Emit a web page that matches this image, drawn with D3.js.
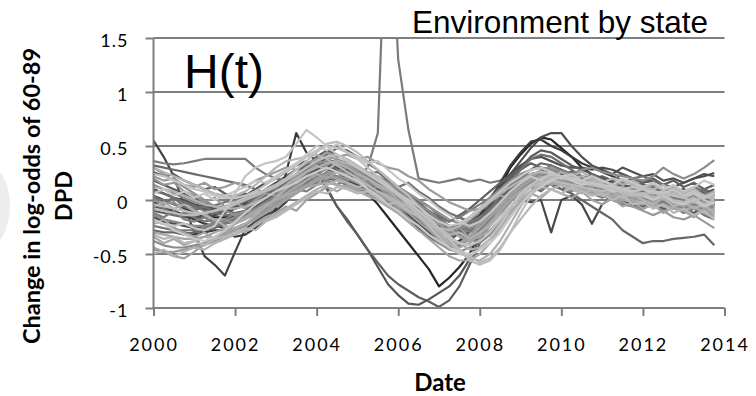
<!DOCTYPE html>
<html><head><meta charset="utf-8">
<script src="https://cdn.jsdelivr.net/npm/d3@7"></script>
<style>
html,body{margin:0;padding:0;background:#fff;}
svg{display:block;}
</style></head>
<body>
<svg id="chart" width="756" height="396"></svg>
<script>
// ---------------- DATA (quarterly, 2000Q1 .. 2013Q4) ----------------
const firstYear = 2000;
const xTickValues = [2000, 2002, 2004, 2006, 2008, 2010, 2012, 2014];
const yTickValues = [-1, -0.5, 0, 0.5, 1, 1.5];
const chartTitle = "Environment by state";
const panelLabel = "H(t)";
const xTitle = "Date";
const yTitleLines = ["Change in log-odds of 60-89", "DPD"];

// outlier / dark series
const sSpike = [0.02,0.00,-0.04,-0.06, -0.08,-0.06,-0.05,-0.02, 0.00,0.02,0.05,0.08, 0.12,0.15,0.20,0.26, 0.30,0.32,0.30,0.28, 0.22,0.30,0.62,3.20, 1.30,0.65,0.20,0.18, 0.16,0.18,0.20,0.17, 0.19,0.16,0.18,0.22, 0.20,0.24,0.26,0.22, 0.18,0.14,0.12,0.10, 0.08,0.06,0.10,0.04, 0.02,0.06,0.00,0.04, -0.02,0.03,-0.04,0.00];
const sDip01 = [0.55,0.40,0.22,-0.05, -0.30,-0.52,-0.60,-0.70, -0.48,-0.27,-0.20,-0.14, -0.10,-0.02,0.10,0.22, 0.30,0.28,0.26,0.20, 0.15,0.08,0.02,-0.04, -0.10,-0.16,-0.22,-0.30, -0.36,-0.38,-0.30,-0.22, -0.14,-0.06,0.02,0.10, 0.18,0.24,0.26,0.22, 0.20,0.18,0.14,0.12, 0.10,0.12,0.08,0.06, 0.04,0.08,0.02,0.00, 0.04,-0.02,0.03,-0.05];
const sDeepA = [0.10,0.06,0.02,0.00, -0.04,-0.06,-0.08,-0.06, -0.02,0.04,0.10,0.16, 0.20,0.26,0.32,0.36, 0.26,0.10,-0.06,-0.18, -0.32,-0.46,-0.62,-0.78, -0.88,-0.96,-0.97,-0.92, -0.86,-0.80,-0.70,-0.55, -0.35,-0.15,0.00,0.10, 0.18,0.22,0.24,0.20, 0.16,0.12,0.10,0.06, 0.04,0.02,0.00,-0.04, -0.06,-0.02,-0.08,-0.04, -0.08,-0.12,-0.06,-0.10];
const sDeepB = [-0.10,-0.12,-0.14,-0.16, -0.16,-0.14,-0.12,-0.10, -0.06,-0.02,0.04,0.10, 0.16,0.22,0.28,0.32, 0.28,0.12,-0.06,-0.20, -0.32,-0.46,-0.58,-0.70, -0.78,-0.84,-0.90,-0.94, -0.99,-0.93,-0.80,-0.60, -0.40,-0.20,-0.04,0.08, 0.16,0.20,0.22,0.20, 0.16,0.14,0.10,0.08, 0.06,0.02,0.04,0.00, -0.04,0.00,-0.06,-0.02, -0.06,-0.02,-0.08,-0.06];
const sBlack = [0.04,0.00,-0.04,-0.08, -0.12,-0.14,-0.16,-0.16, -0.14,-0.10,-0.04,0.02, 0.08,0.14,0.20,0.26, 0.28,0.30,0.26,0.20, 0.14,0.06,-0.04,-0.16, -0.28,-0.40,-0.52,-0.64, -0.80,-0.72,-0.62,-0.50, -0.30,-0.08,0.12,0.30, 0.42,0.52,0.58,0.56, 0.48,0.40,0.30,0.24, 0.20,0.16,0.14,0.10, 0.08,0.10,0.06,0.04, 0.06,0.02,0.04,0.00];
const sPeak03 = [-0.20,-0.22,-0.26,-0.30, -0.32,-0.30,-0.28,-0.28, -0.34,-0.32,-0.26,-0.18, -0.08,0.25,0.62,0.44, 0.36,0.38,0.34,0.30, 0.26,0.20,0.14,0.08, 0.00,-0.08,-0.14,-0.20, -0.26,-0.30,-0.26,-0.18, -0.10,-0.02,0.06,0.12, 0.18,0.22,0.24,0.20, 0.16,0.14,0.12,0.10, 0.08,0.04,0.06,0.02, 0.00,0.04,-0.02,0.02, 0.00,-0.04,0.02,-0.04];
const sDip09 = [-0.16,-0.20,-0.22,-0.24, -0.26,-0.24,-0.22,-0.18, -0.14,-0.10,-0.06,0.00, 0.04,0.10,0.16,0.20, 0.22,0.24,0.22,0.18, 0.14,0.08,0.04,-0.02, -0.10,-0.18,-0.26,-0.32, -0.36,-0.36,-0.30,-0.22, -0.14,-0.06,0.00,0.04, 0.00,-0.02,0.00,-0.30, 0.00,0.04,-0.04,-0.22, -0.04,0.02,-0.02,-0.04, -0.02,-0.06,-0.04,-0.08, -0.04,-0.08,-0.06,-0.12];
const sPeak10 = [0.10,0.06,0.02,-0.02, -0.06,-0.08,-0.10,-0.10, -0.08,-0.04,0.00,0.04, 0.10,0.16,0.22,0.28, 0.32,0.34,0.32,0.28, 0.22,0.16,0.10,0.02, -0.06,-0.14,-0.22,-0.30, -0.36,-0.40,-0.38,-0.30, -0.18,-0.04,0.10,0.24, 0.36,0.48,0.58,0.62, 0.62,0.50,0.40,0.32, 0.28,0.24,0.30,0.26, 0.22,0.24,0.18,0.20, 0.16,0.20,0.24,0.22];
const sPeak09 = [-0.02,-0.06,-0.10,-0.14, -0.18,-0.22,-0.24,-0.26, -0.26,-0.22,-0.18,-0.12, -0.06,0.00,0.08,0.16, 0.24,0.30,0.34,0.30, 0.24,0.18,0.10,0.02, -0.06,-0.14,-0.22,-0.30, -0.38,-0.42,-0.38,-0.28, -0.14,0.00,0.16,0.32, 0.44,0.54,0.56,0.50, 0.46,0.40,0.34,0.30, 0.26,0.22,0.18,0.16, 0.14,0.12,0.10,0.08, 0.10,0.06,0.08,0.04];
const sLowEnd = [-0.28,-0.30,-0.30,-0.32, -0.30,-0.28,-0.26,-0.22, -0.18,-0.14,-0.08,-0.02, 0.02,0.08,0.12,0.16, 0.18,0.20,0.18,0.14, 0.10,0.04,0.00,-0.06, -0.12,-0.20,-0.28,-0.34, -0.40,-0.44,-0.42,-0.36, -0.28,-0.18,-0.06,0.04, 0.10,0.16,0.18,0.14, 0.10,0.06,0.00,-0.06, -0.12,-0.18,-0.28,-0.34, -0.40,-0.38,-0.38,-0.36, -0.35,-0.34,-0.32,-0.42];
const sHighEnd = [0.14,0.10,0.06,0.02, -0.02,-0.04,-0.06,-0.06, -0.04,0.00,0.04,0.08, 0.12,0.18,0.24,0.30, 0.34,0.36,0.34,0.30, 0.24,0.18,0.12,0.06, 0.00,-0.08,-0.14,-0.20, -0.26,-0.30,-0.26,-0.18, -0.08,0.02,0.10,0.18, 0.24,0.28,0.30,0.28, 0.26,0.24,0.28,0.30, 0.26,0.24,0.22,0.20, 0.18,0.22,0.30,0.24, 0.20,0.24,0.30,0.37];
const sMidHigh = [-0.06,-0.08,-0.12,-0.14, -0.16,-0.16,-0.14,-0.12, -0.08,-0.04,0.00,0.04, 0.08,0.12,0.18,0.24, 0.28,0.30,0.28,0.24, 0.20,0.14,0.08,0.02, -0.04,-0.12,-0.20,-0.26, -0.30,-0.32,-0.28,-0.20, -0.10,0.02,0.14,0.24, 0.32,0.38,0.40,0.36, 0.32,0.30,0.30,0.28, 0.30,0.28,0.24,0.20, 0.16,0.18,0.14,0.12, 0.16,0.20,0.22,0.25];

// bulk of states
const b01 = [-0.44,-0.48,-0.52,-0.54, -0.48,-0.40,-0.34,-0.30, -0.26,-0.22,-0.18,-0.12, -0.06,0.00,0.06,0.12, 0.18,0.22,0.20,0.16, 0.12,0.08,0.04,0.00, -0.06,-0.12,-0.20,-0.28, -0.36,-0.42,-0.40,-0.34, -0.26,-0.16,-0.06,0.04, 0.12,0.18,0.22,0.20, 0.16,0.14,0.12,0.10, 0.08,0.06,0.04,0.02, 0.00,-0.02,0.02,-0.04, -0.06,-0.02,-0.08,-0.10];
const b02 = [-0.38,-0.42,-0.44,-0.44, -0.42,-0.40,-0.36,-0.32, -0.28,-0.24,-0.16,-0.08, 0.00,0.06,0.14,0.22, 0.22,0.30,0.26,0.30, 0.24,0.26,0.20,0.16, 0.10,0.04,-0.04,-0.10, -0.18,-0.24,-0.30,-0.34, -0.30,-0.22,-0.12,-0.02, 0.16,0.22,0.24,0.22, 0.18,0.16,0.14,0.10, 0.10,0.08,0.06,0.08, 0.04,0.02,0.06,0.00, -0.02,0.02,-0.04,-0.08];
const b03 = [0.30,0.26,0.22,0.18, 0.14,0.10,0.06,0.04, 0.04,0.08,0.14,0.22, 0.30,0.36,0.38,0.40, 0.42,0.38,0.32,0.26, 0.20,0.14,0.08,0.02, -0.04,-0.10,-0.16,-0.22, -0.26,-0.28,-0.24,-0.18, -0.10,-0.02,0.06,0.12, 0.18,0.24,0.26,0.24, 0.22,0.20,0.22,0.18, 0.16,0.20,0.18,0.14, 0.12,0.10,0.14,0.08, 0.06,0.10,0.04,0.02];
const b04 = [0.20,0.14,0.16,0.08, 0.04,-0.02,0.02,-0.06, -0.02,-0.08,0.00,0.06, 0.04,0.14,0.22,0.30, 0.36,0.40,0.38,0.32, 0.26,0.20,0.14,0.06, 0.04,-0.02,-0.10,-0.16, -0.22,-0.30,-0.26,-0.34, -0.22,-0.14,-0.04,0.06, 0.14,0.20,0.28,0.30, 0.26,0.22,0.18,0.14, 0.12,0.10,0.06,0.04, 0.02,0.04,0.00,-0.02, -0.04,0.00,-0.06,-0.12];
const b05 = [-0.20,-0.22,-0.24,-0.22, -0.26,-0.28,-0.24,-0.10, 0.06,0.22,0.30,0.34, 0.36,0.40,0.52,0.65, 0.58,0.50,0.42,0.36, 0.30,0.24,0.18,0.12, 0.06,0.00,-0.06,-0.14, -0.20,-0.24,-0.22,-0.16, -0.08,0.00,0.08,0.16, 0.22,0.28,0.30,0.26, 0.22,0.20,0.18,0.16, 0.14,0.12,0.10,0.12, 0.10,0.08,0.06,0.10, 0.04,0.08,0.02,0.06];
const b06 = [0.36,0.34,0.33,0.34, 0.36,0.38,0.38,0.38, 0.38,0.38,0.30,0.24, 0.20,0.18,0.22,0.28, 0.34,0.36,0.32,0.30, 0.26,0.22,0.16,0.10, 0.04,-0.02,-0.08,-0.14, -0.18,-0.20,-0.16,-0.10, -0.04,0.02,0.08,0.14, 0.20,0.22,0.20,0.18, 0.16,0.12,0.14,0.10, 0.08,0.04,0.06,0.02, 0.00,0.04,-0.02,0.02, 0.00,-0.04,0.02,-0.02];
const b07 = [0.32,0.30,0.28,0.26, 0.24,0.22,0.20,0.18, 0.16,0.14,0.10,0.06, 0.08,0.12,0.18,0.26, 0.34,0.42,0.48,0.46, 0.40,0.34,0.28,0.20, 0.12,0.04,-0.04,-0.12, -0.18,-0.24,-0.26,-0.22, -0.16,-0.08,0.00,0.10, 0.20,0.28,0.34,0.32, 0.28,0.24,0.20,0.16, 0.14,0.16,0.12,0.10, 0.08,0.12,0.10,0.06, 0.08,0.04,0.10,0.06];
const b08 = [-0.30,-0.32,-0.34,-0.36, -0.36,-0.34,-0.30,-0.26, -0.22,-0.18,-0.12,-0.06, 0.00,0.06,0.12,0.18, 0.24,0.20,0.26,0.22, 0.16,0.20,0.12,0.08, 0.00,-0.08,-0.16,-0.26, -0.34,-0.40,-0.44,-0.40, -0.32,-0.22,-0.10,0.00, 0.08,0.14,0.18,0.16, 0.14,0.10,0.08,0.06, 0.04,0.02,0.00,-0.02, -0.04,-0.02,-0.06,-0.08, -0.10,-0.06,-0.12,-0.16];
const b09 = [-0.08,-0.10,-0.12,-0.14, -0.14,-0.12,-0.10,-0.08, -0.04,0.00,0.04,0.08, 0.12,0.18,0.24,0.30, 0.36,0.40,0.42,0.38, 0.32,0.26,0.20,0.12, 0.04,-0.04,-0.14,-0.24, -0.34,-0.44,-0.50,-0.52, -0.46,-0.36,-0.22,-0.08, 0.04,0.12,0.16,0.18, 0.16,0.14,0.12,0.10, 0.08,0.10,0.06,0.04, 0.06,0.02,0.04,0.00, -0.02,0.02,-0.04,0.00];
const b10 = [0.00,-0.04,-0.02,-0.10, -0.14,-0.12,-0.20,-0.18, -0.22,-0.16,-0.14,-0.06, 0.00,0.06,0.10,0.14, 0.18,0.20,0.22,0.20, 0.16,0.12,0.06,0.00, -0.08,-0.16,-0.24,-0.32, -0.40,-0.46,-0.48,-0.44, -0.36,-0.24,-0.12,0.00, 0.10,0.18,0.24,0.28, 0.26,0.22,0.18,0.16, 0.12,0.10,0.08,0.10, 0.06,0.04,0.08,0.02, 0.00,0.04,-0.02,-0.06];
const b11 = [0.12,0.10,0.08,0.04, 0.00,-0.04,-0.06,-0.08, -0.08,-0.06,-0.02,0.02, 0.08,0.14,0.20,0.26, 0.30,0.34,0.36,0.34, 0.30,0.24,0.18,0.12, 0.06,-0.02,-0.10,-0.20, -0.30,-0.40,-0.48,-0.54, -0.56,-0.50,-0.38,-0.22, -0.06,0.08,0.16,0.20, 0.20,0.18,0.16,0.14, 0.12,0.10,0.12,0.08, 0.06,0.10,0.04,0.08, 0.04,0.08,0.02,0.04];
const b12 = [-0.24,-0.26,-0.28,-0.28, -0.28,-0.26,-0.24,-0.22, -0.20,-0.16,-0.10,-0.04, 0.02,0.08,0.14,0.18, 0.20,0.22,0.18,0.14, 0.10,0.06,0.02,-0.02, -0.04,-0.10,-0.08,-0.16, -0.20,-0.26,-0.22,-0.28, -0.20,-0.12,-0.04,0.04, 0.10,0.16,0.20,0.18, 0.14,0.12,0.10,0.08, 0.04,0.00,-0.04,-0.06, -0.08,-0.04,-0.10,-0.06, -0.12,-0.08,-0.14,-0.18];
const b13 = [0.24,0.22,0.18,0.14, 0.10,0.08,0.04,0.02, 0.02,0.04,0.08,0.14, 0.20,0.26,0.32,0.40, 0.46,0.50,0.48,0.44, 0.38,0.30,0.22,0.14, 0.06,-0.02,-0.10,-0.18, -0.26,-0.34,-0.40,-0.42, -0.38,-0.30,-0.18,-0.06, 0.06,0.14,0.20,0.24, 0.22,0.20,0.16,0.14, 0.12,0.14,0.10,0.08, 0.10,0.06,0.08,0.04, 0.02,0.06,0.00,-0.04];
const b14 = [-0.14,-0.18,-0.20,-0.22, -0.24,-0.24,-0.22,-0.20, -0.16,-0.12,-0.08,-0.02, 0.04,0.10,0.16,0.22, 0.20,0.26,0.22,0.18, 0.22,0.16,0.12,0.14, 0.08,0.02,-0.06,-0.14, -0.20,-0.26,-0.32,-0.36, -0.40,-0.32,-0.20,-0.08, 0.08,0.16,0.20,0.22, 0.18,0.16,0.12,0.10, 0.08,0.06,0.02,0.00, -0.02,0.02,-0.04,-0.06, -0.08,-0.04,-0.10,-0.14];
const b15 = [0.18,0.14,0.10,0.06, 0.02,-0.02,-0.06,-0.10, -0.12,-0.10,-0.06,0.00, 0.06,0.14,0.22,0.28, 0.32,0.34,0.30,0.26, 0.22,0.18,0.12,0.06, 0.00,-0.08,-0.14,-0.20, -0.24,-0.26,-0.22,-0.16, -0.08,0.00,0.10,0.20, 0.30,0.40,0.46,0.44, 0.38,0.32,0.28,0.24, 0.20,0.18,0.14,0.12, 0.10,0.12,0.08,0.06, 0.08,0.10,0.06,0.10];
const b16 = [-0.34,-0.40,-0.36,-0.42, -0.38,-0.34,-0.36,-0.30, -0.22,-0.16,-0.10,-0.04, 0.00,0.04,0.08,0.12, 0.14,0.16,0.14,0.12, 0.08,0.04,0.00,-0.06, -0.12,-0.20,-0.28,-0.36, -0.44,-0.52,-0.56,-0.56, -0.50,-0.40,-0.26,-0.12, 0.00,0.08,0.14,0.16, 0.14,0.12,0.10,0.08, 0.06,0.04,0.02,0.00, -0.02,-0.06,-0.04,-0.08, -0.10,-0.06,-0.12,-0.08];
const b17 = [-0.04,-0.06,-0.08,-0.10, -0.12,-0.12,-0.10,-0.06, -0.02,0.02,0.06,0.10, 0.14,0.20,0.28,0.36, 0.44,0.52,0.54,0.50, 0.44,0.36,0.28,0.20, 0.12,0.04,-0.06,-0.16, -0.26,-0.36,-0.46,-0.56, -0.60,-0.56,-0.46,-0.30, -0.12,0.04,0.14,0.20, 0.22,0.20,0.18,0.14, 0.12,0.10,0.08,0.06, 0.04,0.08,0.02,0.06, 0.02,-0.02,0.04,0.00];
const b18 = [0.08,0.06,0.02,-0.02, -0.06,-0.10,-0.12,-0.14, -0.14,-0.12,-0.08,-0.04, 0.02,0.08,0.16,0.24, 0.30,0.34,0.36,0.34, 0.28,0.22,0.14,0.06, -0.02,-0.10,-0.18,-0.24, -0.30,-0.34,-0.32,-0.26, -0.18,-0.08,0.04,0.16, 0.28,0.38,0.42,0.40, 0.34,0.28,0.22,0.18, 0.14,0.12,0.16,0.20, 0.22,0.18,0.14,0.10, 0.08,0.12,0.08,0.04];
const b19 = [-0.46,-0.48,-0.48,-0.46, -0.44,-0.42,-0.38,-0.34, -0.28,-0.22,-0.16,-0.10, -0.04,0.02,0.08,0.14, 0.20,0.24,0.26,0.24, 0.22,0.18,0.12,0.06, 0.00,-0.08,-0.16,-0.24, -0.32,-0.38,-0.40,-0.38, -0.30,-0.20,-0.10,0.00, 0.08,0.14,0.18,0.18, 0.16,0.12,0.10,0.08, 0.06,0.02,-0.02,-0.06, -0.10,-0.14,-0.10,-0.16, -0.18,-0.14,-0.20,-0.26];
const n01 = [0.22,0.18,0.20,0.14, 0.12,0.16,0.10,0.12, 0.16,0.12,0.18,0.22, 0.26,0.30,0.28,0.34, 0.38,0.44,0.40,0.42, 0.38,0.40,0.34,0.30, 0.28,0.22,0.18,0.10, 0.04,-0.02,-0.06,-0.10, -0.08,-0.02,0.04,0.02, 0.08,0.12,0.16,0.14, 0.18,0.14,0.16,0.12, 0.16,0.12,0.18,0.14, 0.10,0.14,0.08,0.12, 0.06,0.10,0.04,0.08];
const n02 = [-0.32,-0.36,-0.34,-0.40, -0.38,-0.42,-0.36,-0.34, -0.30,-0.26,-0.28,-0.20, -0.16,-0.10,-0.04,0.02, 0.08,0.06,0.12,0.10, 0.06,0.08,0.02,-0.04, -0.02,-0.10,-0.14,-0.22, -0.28,-0.36,-0.46,-0.52, -0.58,-0.54,-0.44,-0.30, -0.18,-0.06,0.04,0.10, 0.06,0.12,0.08,0.04, 0.06,0.00,0.04,-0.04, -0.02,-0.08,-0.04,-0.12, -0.08,-0.14,-0.10,-0.18];
const n03 = [0.04,-0.02,0.02,-0.06, -0.10,-0.06,-0.12,-0.08, -0.02,-0.06,0.02,0.06, 0.10,0.06,0.14,0.20, 0.24,0.20,0.28,0.24, 0.30,0.24,0.26,0.18, 0.12,0.16,0.08,0.02, -0.06,-0.12,-0.16,-0.20, -0.16,-0.10,-0.02,0.06, 0.04,0.12,0.08,0.16, 0.10,0.14,0.08,0.12, 0.06,0.10,0.04,0.08, 0.14,0.06,0.10,0.02, 0.08,0.00,0.06,-0.02];
const n04 = [-0.22,-0.18,-0.26,-0.30, -0.34,-0.30,-0.36,-0.32, -0.26,-0.30,-0.22,-0.16, -0.12,-0.06,-0.10,0.00, 0.06,0.12,0.08,0.14, 0.10,0.04,0.08,0.02, -0.04,-0.08,-0.16,-0.24, -0.30,-0.26,-0.34,-0.38, -0.34,-0.28,-0.18,-0.10, -0.02,0.06,0.02,0.10, 0.06,0.02,0.08,0.00, -0.04,0.02,-0.06,-0.02, -0.08,-0.04,-0.12,-0.06, -0.10,-0.16,-0.08,-0.14];
const n05 = [0.06,0.10,0.04,0.08, 0.02,0.06,0.00,0.04, 0.08,0.12,0.18,0.16, 0.22,0.28,0.34,0.42, 0.50,0.46,0.52,0.44, 0.40,0.34,0.36,0.28, 0.20,0.14,0.06,0.00, -0.08,-0.14,-0.20,-0.24, -0.20,-0.12,-0.02,0.08, 0.16,0.22,0.18,0.24, 0.20,0.24,0.18,0.22, 0.18,0.14,0.20,0.16, 0.12,0.16,0.10,0.14, 0.08,0.12,0.18,0.14];
const n06 = [-0.12,-0.16,-0.10,-0.18, -0.20,-0.16,-0.22,-0.18, -0.12,-0.16,-0.08,-0.04, 0.00,0.04,0.10,0.08, 0.14,0.18,0.14,0.20, 0.16,0.10,0.12,0.06, 0.02,-0.04,-0.08,-0.16, -0.22,-0.28,-0.24,-0.30, -0.24,-0.16,-0.08,0.00, 0.06,0.14,0.10,0.18, 0.14,0.08,0.12,0.06, 0.02,0.06,0.00,0.04, -0.02,0.04,-0.04,0.00, -0.06,-0.02,-0.10,-0.04];
const n07 = [-0.50,-0.46,-0.52,-0.48, -0.44,-0.46,-0.40,-0.36, -0.32,-0.28,-0.24,-0.18, -0.14,-0.08,-0.02,0.04, 0.10,0.14,0.18,0.16, 0.12,0.14,0.08,0.04, -0.02,-0.06,-0.12,-0.18, -0.26,-0.32,-0.30,-0.36, -0.30,-0.24,-0.14,-0.06, 0.02,0.08,0.12,0.10, 0.14,0.10,0.06,0.10, 0.04,0.08,0.02,0.06, 0.00,-0.04,0.02,-0.06, -0.02,-0.08,-0.04,-0.12];
const n08 = [0.26,0.22,0.24,0.18, 0.14,0.10,0.12,0.06, 0.02,0.06,0.00,0.04, 0.10,0.16,0.24,0.32, 0.40,0.46,0.42,0.36, 0.30,0.26,0.20,0.14, 0.10,0.04,-0.02,-0.10, -0.16,-0.20,-0.14,-0.08, 0.00,0.08,0.16,0.22, 0.28,0.34,0.30,0.28, 0.24,0.26,0.22,0.20, 0.22,0.18,0.24,0.20, 0.16,0.20,0.14,0.18, 0.12,0.16,0.10,0.14];
const n09 = [-0.06,-0.02,-0.08,-0.04, -0.10,-0.14,-0.18,-0.24, -0.26,-0.22,-0.14,-0.06, 0.02,0.10,0.18,0.26, 0.32,0.28,0.34,0.30, 0.24,0.20,0.14,0.10, 0.04,-0.04,-0.12,-0.20, -0.28,-0.34,-0.40,-0.46, -0.44,-0.36,-0.26,-0.14, -0.04,0.06,0.14,0.22, 0.26,0.22,0.26,0.20, 0.16,0.20,0.14,0.18, 0.12,0.16,0.10,0.12, 0.06,0.10,0.02,0.08];
const n10 = [0.30,0.24,0.18,0.12, 0.06,0.00,-0.06,-0.10, -0.14,-0.10,-0.12,-0.06, -0.02,0.04,0.10,0.18, 0.26,0.32,0.38,0.34, 0.28,0.22,0.18,0.16, 0.10,0.06,0.00,-0.06, -0.12,-0.18,-0.22,-0.26, -0.22,-0.16,-0.08,0.00, 0.08,0.14,0.18,0.22, 0.18,0.14,0.10,0.14, 0.10,0.06,0.10,0.04, 0.02,0.06,0.00,0.04, -0.02,0.04,-0.02,0.02];
const n11 = [-0.18,-0.22,-0.28,-0.32, -0.36,-0.38,-0.34,-0.28, -0.20,-0.12,-0.04,0.02, 0.08,0.12,0.16,0.22, 0.26,0.30,0.26,0.22, 0.18,0.10,0.04,-0.04, -0.10,-0.18,-0.24,-0.32, -0.38,-0.44,-0.48,-0.50, -0.46,-0.40,-0.30,-0.16, -0.04,0.06,0.12,0.18, 0.22,0.18,0.14,0.16, 0.12,0.08,0.10,0.06, 0.04,0.00,0.04,-0.02, -0.04,0.00,-0.06,-0.02];
const n12 = [-0.04,-0.08,-0.14,-0.12, -0.16,-0.20,-0.18,-0.22, -0.18,-0.14,-0.16,-0.10, -0.04,0.02,0.08,0.12, 0.16,0.24,0.20,0.26, 0.22,0.18,0.22,0.16, 0.12,0.06,0.00,-0.06, -0.14,-0.20,-0.16,-0.22, -0.16,-0.10,-0.02,0.06, 0.12,0.20,0.26,0.32, 0.28,0.24,0.20,0.24, 0.18,0.14,0.08,0.12, 0.06,0.10,0.04,0.00, 0.04,-0.02,0.02,-0.04];

// draw order (first drawn = bottom)
const seriesData = [sDeepA, sDeepB, sBlack, sSpike, sDip01, sPeak03, sDip09, sPeak10, sPeak09, sLowEnd, sMidHigh,
                    n08, b07, b15, n03, b12, n12, b18, n06, b02, b14, n10, b10, b06, b04, b19, sHighEnd, n01,
                    b08, n04, b16, b01, n09, n07, b11, b03, n02, b09, n05, b13, n11, b17, b05];

// ---------------- STYLE ----------------
const lineGrays = ["#555555","#5e5e5e","#262626","#7a7a7a","#444444","#3a3a3a","#484848","#505050","#3c3c3c","#666666","#4d4d4d",
                   "#606060","#6a6a6a","#5a5a5a","#6f6f6f","#777777","#747474","#707070","#808080","#8a8a8a","#858585","#929292","#909090","#7c7c7c","#999999","#9a9a9a","#8c8c8c","#9c9c9c",
                   "#a6a6a6","#a3a3a3","#a8a8a8","#a0a0a0","#aeaeae","#b2b2b2","#b0b0b0","#b5b5b5","#b8b8b8","#bbbbbb","#c6c6c6","#c2c2c2","#c8c8c8","#bdbdbd","#c4c4c4"];

const plot = {left: 153.5, right: 724.5, top: 38, bottom: 308};
const svg = d3.select("#chart");

const x = d3.scaleLinear().domain([2000, 2014]).range([plot.left, plot.right]);
const y = d3.scaleLinear().domain([-1, 1.5]).range([plot.bottom, plot.top]);

// faint artifact at left edge
svg.append("ellipse").attr("cx", -14).attr("cy", 206).attr("rx", 24).attr("ry", 42)
   .attr("fill", "#e6e6e6").attr("opacity", 0.7);

const gridColor = "#7f7f7f";
svg.append("g").selectAll("line").data(yTickValues).join("line")
  .attr("x1", plot.left).attr("x2", plot.right)
  .attr("y1", d => y(d)).attr("y2", d => y(d))
  .attr("stroke", gridColor).attr("stroke-width", 2);

svg.append("defs").append("clipPath").attr("id", "clip")
  .append("rect").attr("x", plot.left).attr("y", plot.top)
  .attr("width", plot.right - plot.left).attr("height", plot.bottom - plot.top);

const line = d3.line()
  .x((d, i) => x(firstYear + i * 0.25))
  .y(d => y(d));

svg.append("g").attr("clip-path", "url(#clip)")
  .selectAll("path").data(seriesData).join("path")
  .attr("d", d => line(d))
  .attr("fill", "none")
  .attr("stroke", (d, i) => lineGrays[i % lineGrays.length])
  .attr("stroke-width", 2.2)
  .attr("stroke-linejoin", "round");

// axes
const yAxis = d3.axisLeft(y).tickValues(yTickValues).tickSize(8);
const gy = svg.append("g").attr("transform", `translate(${plot.left},0)`).call(yAxis);
gy.select(".domain").attr("stroke", gridColor).attr("stroke-width", 2).attr("d", `M0,${plot.top}V${plot.bottom}`);
gy.selectAll(".tick line").attr("stroke", gridColor).attr("stroke-width", 2);
gy.selectAll(".tick text")
  .attr("x", -25).attr("dy", "0.45em")
  .attr("font-family", "Lato, 'Open Sans', sans-serif").attr("font-size", 18)
  .style("letter-spacing", "1px")
  .attr("fill", "#000")
  .text(d => d < 0 ? "-" + Math.abs(d) : String(d));

const xAxis = d3.axisBottom(x).tickValues(xTickValues).tickSize(8).tickFormat(d3.format("d"));
const gx = svg.append("g").attr("transform", `translate(0,${plot.bottom})`).call(xAxis);
gx.select(".domain").attr("stroke", gridColor).attr("stroke-width", 2).attr("d", `M${plot.left},0H${plot.right}`);
gx.selectAll(".tick line").attr("stroke", gridColor).attr("stroke-width", 2);
gx.selectAll(".tick text")
  .attr("y", 30).attr("dy", "0.71em")
  .attr("font-family", "Lato, 'Open Sans', sans-serif").attr("font-size", 18)
  .style("letter-spacing", "2px")
  .attr("fill", "#000");

// titles
svg.append("text").attr("x", 708).attr("y", 33).attr("text-anchor", "end")
  .attr("font-family", "'Liberation Sans', Arial, sans-serif").attr("font-size", 31.5)
  .attr("fill", "#000").text(chartTitle);

svg.append("text").attr("x", 184).attr("y", 88)
  .attr("font-family", "'Liberation Sans', Arial, sans-serif").attr("font-size", 48)
  .attr("fill", "#000").text(panelLabel);

svg.append("text").attr("x", 440).attr("y", 391).attr("text-anchor", "middle")
  .attr("font-family", "Lato, 'Open Sans', sans-serif").attr("font-weight", "bold").attr("font-size", 24)
  .attr("fill", "#000").text(xTitle);

const yt = svg.append("text").attr("transform", "translate(0,196) rotate(-90)")
  .attr("text-anchor", "middle")
  .attr("font-family", "Lato, 'Open Sans', sans-serif").attr("font-weight", "bold").attr("font-size", 23.5)
  .attr("fill", "#000");
yt.selectAll("tspan").data(yTitleLines).join("tspan")
  .attr("x", 0).attr("y", (d, i) => i === 0 ? 40 : 72)
  .text(d => d);
</script>
</body></html>
